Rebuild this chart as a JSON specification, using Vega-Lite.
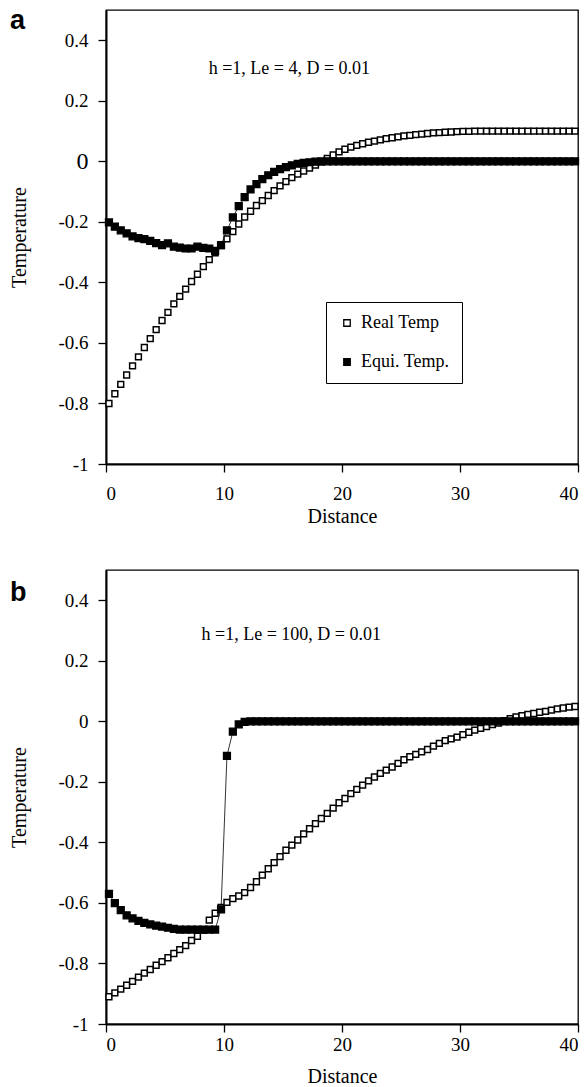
{
"$schema":"https://vega.github.io/schema/vega-lite/v6.json",
"background":"white",
"padding":{"left":9,"top":6,"right":0,"bottom":0},
"spacing":42,
"config":{
 "view":{"stroke":"black","strokeWidth":1.3},
 "axis":{"grid":false,"domainColor":"black","domainWidth":2,"tickColor":"black","tickWidth":1.3,"tickSize":8,
  "labelFont":"Liberation Serif","labelFontSize":19,"labelColor":"black",
  "titleFont":"Liberation Serif","titleFontSize":20,"titleFontWeight":"normal","titleColor":"black"}
},
"resolve":{"scale":{"fill":"independent"},"legend":{"fill":"independent"}},
"datasets":{
"a":[
{"d":0.25,"t":-0.800,"s":"Real Temp"},{"d":0.75,"t":-0.768,"s":"Real Temp"},{"d":1.25,"t":-0.737,"s":"Real Temp"},{"d":1.75,"t":-0.706,"s":"Real Temp"},
{"d":2.25,"t":-0.676,"s":"Real Temp"},{"d":2.75,"t":-0.646,"s":"Real Temp"},{"d":3.25,"t":-0.615,"s":"Real Temp"},{"d":3.75,"t":-0.586,"s":"Real Temp"},
{"d":4.25,"t":-0.556,"s":"Real Temp"},{"d":4.75,"t":-0.526,"s":"Real Temp"},{"d":5.25,"t":-0.499,"s":"Real Temp"},{"d":5.75,"t":-0.471,"s":"Real Temp"},
{"d":6.25,"t":-0.446,"s":"Real Temp"},{"d":6.75,"t":-0.422,"s":"Real Temp"},{"d":7.25,"t":-0.397,"s":"Real Temp"},{"d":7.75,"t":-0.373,"s":"Real Temp"},
{"d":8.25,"t":-0.348,"s":"Real Temp"},{"d":8.75,"t":-0.325,"s":"Real Temp"},{"d":9.25,"t":-0.302,"s":"Real Temp"},{"d":9.75,"t":-0.278,"s":"Real Temp"},
{"d":10.25,"t":-0.256,"s":"Real Temp"},{"d":10.75,"t":-0.232,"s":"Real Temp"},{"d":11.25,"t":-0.207,"s":"Real Temp"},{"d":11.75,"t":-0.184,"s":"Real Temp"},
{"d":12.25,"t":-0.165,"s":"Real Temp"},{"d":12.75,"t":-0.146,"s":"Real Temp"},{"d":13.25,"t":-0.130,"s":"Real Temp"},{"d":13.75,"t":-0.113,"s":"Real Temp"},
{"d":14.25,"t":-0.097,"s":"Real Temp"},{"d":14.75,"t":-0.081,"s":"Real Temp"},{"d":15.25,"t":-0.067,"s":"Real Temp"},{"d":15.75,"t":-0.054,"s":"Real Temp"},
{"d":16.25,"t":-0.042,"s":"Real Temp"},{"d":16.75,"t":-0.032,"s":"Real Temp"},{"d":17.25,"t":-0.022,"s":"Real Temp"},{"d":17.75,"t":-0.012,"s":"Real Temp"},
{"d":18.25,"t":-0.002,"s":"Real Temp"},{"d":18.75,"t":0.010,"s":"Real Temp"},{"d":19.25,"t":0.021,"s":"Real Temp"},{"d":19.75,"t":0.031,"s":"Real Temp"},
{"d":20.25,"t":0.040,"s":"Real Temp"},{"d":20.75,"t":0.047,"s":"Real Temp"},{"d":21.25,"t":0.053,"s":"Real Temp"},{"d":21.75,"t":0.058,"s":"Real Temp"},
{"d":22.25,"t":0.063,"s":"Real Temp"},{"d":22.75,"t":0.067,"s":"Real Temp"},{"d":23.25,"t":0.071,"s":"Real Temp"},{"d":23.75,"t":0.075,"s":"Real Temp"},
{"d":24.25,"t":0.078,"s":"Real Temp"},{"d":24.75,"t":0.081,"s":"Real Temp"},{"d":25.25,"t":0.084,"s":"Real Temp"},{"d":25.75,"t":0.086,"s":"Real Temp"},
{"d":26.25,"t":0.088,"s":"Real Temp"},{"d":26.75,"t":0.090,"s":"Real Temp"},{"d":27.25,"t":0.092,"s":"Real Temp"},{"d":27.75,"t":0.094,"s":"Real Temp"},
{"d":28.25,"t":0.095,"s":"Real Temp"},{"d":28.75,"t":0.096,"s":"Real Temp"},{"d":29.25,"t":0.097,"s":"Real Temp"},{"d":29.75,"t":0.098,"s":"Real Temp"},
{"d":30.25,"t":0.099,"s":"Real Temp"},{"d":30.75,"t":0.099,"s":"Real Temp"},{"d":31.25,"t":0.100,"s":"Real Temp"},{"d":31.75,"t":0.100,"s":"Real Temp"},
{"d":32.25,"t":0.100,"s":"Real Temp"},{"d":32.75,"t":0.100,"s":"Real Temp"},{"d":33.25,"t":0.100,"s":"Real Temp"},{"d":33.75,"t":0.100,"s":"Real Temp"},
{"d":34.25,"t":0.100,"s":"Real Temp"},{"d":34.75,"t":0.100,"s":"Real Temp"},{"d":35.25,"t":0.100,"s":"Real Temp"},{"d":35.75,"t":0.100,"s":"Real Temp"},
{"d":36.25,"t":0.100,"s":"Real Temp"},{"d":36.75,"t":0.100,"s":"Real Temp"},{"d":37.25,"t":0.100,"s":"Real Temp"},{"d":37.75,"t":0.100,"s":"Real Temp"},
{"d":38.25,"t":0.100,"s":"Real Temp"},{"d":38.75,"t":0.100,"s":"Real Temp"},{"d":39.25,"t":0.100,"s":"Real Temp"},{"d":39.75,"t":0.100,"s":"Real Temp"},
{"d":0.25,"t":-0.202,"s":"Equi. Temp."},{"d":0.75,"t":-0.216,"s":"Equi. Temp."},{"d":1.25,"t":-0.228,"s":"Equi. Temp."},{"d":1.75,"t":-0.238,"s":"Equi. Temp."},
{"d":2.25,"t":-0.248,"s":"Equi. Temp."},{"d":2.75,"t":-0.254,"s":"Equi. Temp."},{"d":3.25,"t":-0.257,"s":"Equi. Temp."},{"d":3.75,"t":-0.263,"s":"Equi. Temp."},
{"d":4.25,"t":-0.270,"s":"Equi. Temp."},{"d":4.75,"t":-0.277,"s":"Equi. Temp."},{"d":5.25,"t":-0.271,"s":"Equi. Temp."},{"d":5.75,"t":-0.282,"s":"Equi. Temp."},
{"d":6.25,"t":-0.285,"s":"Equi. Temp."},{"d":6.75,"t":-0.288,"s":"Equi. Temp."},{"d":7.25,"t":-0.288,"s":"Equi. Temp."},{"d":7.75,"t":-0.282,"s":"Equi. Temp."},
{"d":8.25,"t":-0.286,"s":"Equi. Temp."},{"d":8.75,"t":-0.288,"s":"Equi. Temp."},{"d":9.25,"t":-0.296,"s":"Equi. Temp."},{"d":9.75,"t":-0.277,"s":"Equi. Temp."},
{"d":10.25,"t":-0.228,"s":"Equi. Temp."},{"d":10.75,"t":-0.185,"s":"Equi. Temp."},{"d":11.25,"t":-0.148,"s":"Equi. Temp."},{"d":11.75,"t":-0.118,"s":"Equi. Temp."},
{"d":12.25,"t":-0.093,"s":"Equi. Temp."},{"d":12.75,"t":-0.075,"s":"Equi. Temp."},{"d":13.25,"t":-0.059,"s":"Equi. Temp."},{"d":13.75,"t":-0.046,"s":"Equi. Temp."},
{"d":14.25,"t":-0.035,"s":"Equi. Temp."},{"d":14.75,"t":-0.026,"s":"Equi. Temp."},{"d":15.25,"t":-0.019,"s":"Equi. Temp."},{"d":15.75,"t":-0.013,"s":"Equi. Temp."},
{"d":16.25,"t":-0.008,"s":"Equi. Temp."},{"d":16.75,"t":-0.005,"s":"Equi. Temp."},{"d":17.25,"t":-0.003,"s":"Equi. Temp."},{"d":17.75,"t":-0.001,"s":"Equi. Temp."},
{"d":18.25,"t":0,"s":"Equi. Temp."},{"d":18.75,"t":0,"s":"Equi. Temp."},{"d":19.25,"t":0,"s":"Equi. Temp."},{"d":19.75,"t":0,"s":"Equi. Temp."},
{"d":20.25,"t":0,"s":"Equi. Temp."},{"d":20.75,"t":0,"s":"Equi. Temp."},{"d":21.25,"t":0,"s":"Equi. Temp."},{"d":21.75,"t":0,"s":"Equi. Temp."},
{"d":22.25,"t":0,"s":"Equi. Temp."},{"d":22.75,"t":0,"s":"Equi. Temp."},{"d":23.25,"t":0,"s":"Equi. Temp."},{"d":23.75,"t":0,"s":"Equi. Temp."},
{"d":24.25,"t":0,"s":"Equi. Temp."},{"d":24.75,"t":0,"s":"Equi. Temp."},{"d":25.25,"t":0,"s":"Equi. Temp."},{"d":25.75,"t":0,"s":"Equi. Temp."},
{"d":26.25,"t":0,"s":"Equi. Temp."},{"d":26.75,"t":0,"s":"Equi. Temp."},{"d":27.25,"t":0,"s":"Equi. Temp."},{"d":27.75,"t":0,"s":"Equi. Temp."},
{"d":28.25,"t":0,"s":"Equi. Temp."},{"d":28.75,"t":0,"s":"Equi. Temp."},{"d":29.25,"t":0,"s":"Equi. Temp."},{"d":29.75,"t":0,"s":"Equi. Temp."},
{"d":30.25,"t":0,"s":"Equi. Temp."},{"d":30.75,"t":0,"s":"Equi. Temp."},{"d":31.25,"t":0,"s":"Equi. Temp."},{"d":31.75,"t":0,"s":"Equi. Temp."},
{"d":32.25,"t":0,"s":"Equi. Temp."},{"d":32.75,"t":0,"s":"Equi. Temp."},{"d":33.25,"t":0,"s":"Equi. Temp."},{"d":33.75,"t":0,"s":"Equi. Temp."},
{"d":34.25,"t":0,"s":"Equi. Temp."},{"d":34.75,"t":0,"s":"Equi. Temp."},{"d":35.25,"t":0,"s":"Equi. Temp."},{"d":35.75,"t":0,"s":"Equi. Temp."},
{"d":36.25,"t":0,"s":"Equi. Temp."},{"d":36.75,"t":0,"s":"Equi. Temp."},{"d":37.25,"t":0,"s":"Equi. Temp."},{"d":37.75,"t":0,"s":"Equi. Temp."},
{"d":38.25,"t":0,"s":"Equi. Temp."},{"d":38.75,"t":0,"s":"Equi. Temp."},{"d":39.25,"t":0,"s":"Equi. Temp."},{"d":39.75,"t":0,"s":"Equi. Temp."}
],
"b":[
{"d":0.25,"t":-0.910,"s":"Real Temp"},{"d":0.75,"t":-0.897,"s":"Real Temp"},{"d":1.25,"t":-0.885,"s":"Real Temp"},{"d":1.75,"t":-0.872,"s":"Real Temp"},
{"d":2.25,"t":-0.859,"s":"Real Temp"},{"d":2.75,"t":-0.845,"s":"Real Temp"},{"d":3.25,"t":-0.832,"s":"Real Temp"},{"d":3.75,"t":-0.820,"s":"Real Temp"},
{"d":4.25,"t":-0.806,"s":"Real Temp"},{"d":4.75,"t":-0.794,"s":"Real Temp"},{"d":5.25,"t":-0.781,"s":"Real Temp"},{"d":5.75,"t":-0.767,"s":"Real Temp"},
{"d":6.25,"t":-0.754,"s":"Real Temp"},{"d":6.75,"t":-0.741,"s":"Real Temp"},{"d":7.25,"t":-0.724,"s":"Real Temp"},{"d":7.75,"t":-0.710,"s":"Real Temp"},
{"d":8.25,"t":-0.690,"s":"Real Temp"},{"d":8.75,"t":-0.657,"s":"Real Temp"},{"d":9.25,"t":-0.634,"s":"Real Temp"},{"d":9.75,"t":-0.615,"s":"Real Temp"},
{"d":10.25,"t":-0.598,"s":"Real Temp"},{"d":10.75,"t":-0.586,"s":"Real Temp"},{"d":11.25,"t":-0.577,"s":"Real Temp"},{"d":11.75,"t":-0.566,"s":"Real Temp"},
{"d":12.25,"t":-0.549,"s":"Real Temp"},{"d":12.75,"t":-0.530,"s":"Real Temp"},{"d":13.25,"t":-0.508,"s":"Real Temp"},{"d":13.75,"t":-0.487,"s":"Real Temp"},
{"d":14.25,"t":-0.467,"s":"Real Temp"},{"d":14.75,"t":-0.447,"s":"Real Temp"},{"d":15.25,"t":-0.426,"s":"Real Temp"},{"d":15.75,"t":-0.409,"s":"Real Temp"},
{"d":16.25,"t":-0.392,"s":"Real Temp"},{"d":16.75,"t":-0.372,"s":"Real Temp"},{"d":17.25,"t":-0.355,"s":"Real Temp"},{"d":17.75,"t":-0.338,"s":"Real Temp"},
{"d":18.25,"t":-0.321,"s":"Real Temp"},{"d":18.75,"t":-0.304,"s":"Real Temp"},{"d":19.25,"t":-0.287,"s":"Real Temp"},{"d":19.75,"t":-0.269,"s":"Real Temp"},
{"d":20.25,"t":-0.255,"s":"Real Temp"},{"d":20.75,"t":-0.239,"s":"Real Temp"},{"d":21.25,"t":-0.225,"s":"Real Temp"},{"d":21.75,"t":-0.211,"s":"Real Temp"},
{"d":22.25,"t":-0.197,"s":"Real Temp"},{"d":22.75,"t":-0.184,"s":"Real Temp"},{"d":23.25,"t":-0.172,"s":"Real Temp"},{"d":23.75,"t":-0.161,"s":"Real Temp"},
{"d":24.25,"t":-0.151,"s":"Real Temp"},{"d":24.75,"t":-0.139,"s":"Real Temp"},{"d":25.25,"t":-0.127,"s":"Real Temp"},{"d":25.75,"t":-0.117,"s":"Real Temp"},
{"d":26.25,"t":-0.109,"s":"Real Temp"},{"d":26.75,"t":-0.101,"s":"Real Temp"},{"d":27.25,"t":-0.093,"s":"Real Temp"},{"d":27.75,"t":-0.082,"s":"Real Temp"},
{"d":28.25,"t":-0.073,"s":"Real Temp"},{"d":28.75,"t":-0.064,"s":"Real Temp"},{"d":29.25,"t":-0.058,"s":"Real Temp"},{"d":29.75,"t":-0.052,"s":"Real Temp"},
{"d":30.25,"t":-0.044,"s":"Real Temp"},{"d":30.75,"t":-0.036,"s":"Real Temp"},{"d":31.25,"t":-0.029,"s":"Real Temp"},{"d":31.75,"t":-0.023,"s":"Real Temp"},
{"d":32.25,"t":-0.017,"s":"Real Temp"},{"d":32.75,"t":-0.011,"s":"Real Temp"},{"d":33.25,"t":-0.006,"s":"Real Temp"},{"d":33.75,"t":0.002,"s":"Real Temp"},
{"d":34.25,"t":0.009,"s":"Real Temp"},{"d":34.75,"t":0.015,"s":"Real Temp"},{"d":35.25,"t":0.019,"s":"Real Temp"},{"d":35.75,"t":0.023,"s":"Real Temp"},
{"d":36.25,"t":0.026,"s":"Real Temp"},{"d":36.75,"t":0.030,"s":"Real Temp"},{"d":37.25,"t":0.033,"s":"Real Temp"},{"d":37.75,"t":0.037,"s":"Real Temp"},
{"d":38.25,"t":0.041,"s":"Real Temp"},{"d":38.75,"t":0.044,"s":"Real Temp"},{"d":39.25,"t":0.047,"s":"Real Temp"},{"d":39.75,"t":0.049,"s":"Real Temp"},
{"d":0.25,"t":-0.570,"s":"Equi. Temp."},{"d":0.75,"t":-0.601,"s":"Equi. Temp."},{"d":1.25,"t":-0.624,"s":"Equi. Temp."},{"d":1.75,"t":-0.641,"s":"Equi. Temp."},
{"d":2.25,"t":-0.651,"s":"Equi. Temp."},{"d":2.75,"t":-0.659,"s":"Equi. Temp."},{"d":3.25,"t":-0.666,"s":"Equi. Temp."},{"d":3.75,"t":-0.671,"s":"Equi. Temp."},
{"d":4.25,"t":-0.675,"s":"Equi. Temp."},{"d":4.75,"t":-0.678,"s":"Equi. Temp."},{"d":5.25,"t":-0.682,"s":"Equi. Temp."},{"d":5.75,"t":-0.686,"s":"Equi. Temp."},
{"d":6.25,"t":-0.688,"s":"Equi. Temp."},{"d":6.75,"t":-0.688,"s":"Equi. Temp."},{"d":7.25,"t":-0.688,"s":"Equi. Temp."},{"d":7.75,"t":-0.688,"s":"Equi. Temp."},
{"d":8.25,"t":-0.688,"s":"Equi. Temp."},{"d":8.75,"t":-0.688,"s":"Equi. Temp."},{"d":9.25,"t":-0.688,"s":"Equi. Temp."},{"d":9.75,"t":-0.621,"s":"Equi. Temp."},
{"d":10.25,"t":-0.114,"s":"Equi. Temp."},{"d":10.75,"t":-0.034,"s":"Equi. Temp."},{"d":11.25,"t":-0.010,"s":"Equi. Temp."},{"d":11.75,"t":-0.002,"s":"Equi. Temp."},
{"d":12.25,"t":0,"s":"Equi. Temp."},{"d":12.75,"t":0,"s":"Equi. Temp."},{"d":13.25,"t":0,"s":"Equi. Temp."},{"d":13.75,"t":0,"s":"Equi. Temp."},
{"d":14.25,"t":0,"s":"Equi. Temp."},{"d":14.75,"t":0,"s":"Equi. Temp."},{"d":15.25,"t":0,"s":"Equi. Temp."},{"d":15.75,"t":0,"s":"Equi. Temp."},
{"d":16.25,"t":0,"s":"Equi. Temp."},{"d":16.75,"t":0,"s":"Equi. Temp."},{"d":17.25,"t":0,"s":"Equi. Temp."},{"d":17.75,"t":0,"s":"Equi. Temp."},
{"d":18.25,"t":0,"s":"Equi. Temp."},{"d":18.75,"t":0,"s":"Equi. Temp."},{"d":19.25,"t":0,"s":"Equi. Temp."},{"d":19.75,"t":0,"s":"Equi. Temp."},
{"d":20.25,"t":0,"s":"Equi. Temp."},{"d":20.75,"t":0,"s":"Equi. Temp."},{"d":21.25,"t":0,"s":"Equi. Temp."},{"d":21.75,"t":0,"s":"Equi. Temp."},
{"d":22.25,"t":0,"s":"Equi. Temp."},{"d":22.75,"t":0,"s":"Equi. Temp."},{"d":23.25,"t":0,"s":"Equi. Temp."},{"d":23.75,"t":0,"s":"Equi. Temp."},
{"d":24.25,"t":0,"s":"Equi. Temp."},{"d":24.75,"t":0,"s":"Equi. Temp."},{"d":25.25,"t":0,"s":"Equi. Temp."},{"d":25.75,"t":0,"s":"Equi. Temp."},
{"d":26.25,"t":0,"s":"Equi. Temp."},{"d":26.75,"t":0,"s":"Equi. Temp."},{"d":27.25,"t":0,"s":"Equi. Temp."},{"d":27.75,"t":0,"s":"Equi. Temp."},
{"d":28.25,"t":0,"s":"Equi. Temp."},{"d":28.75,"t":0,"s":"Equi. Temp."},{"d":29.25,"t":0,"s":"Equi. Temp."},{"d":29.75,"t":0,"s":"Equi. Temp."},
{"d":30.25,"t":0,"s":"Equi. Temp."},{"d":30.75,"t":0,"s":"Equi. Temp."},{"d":31.25,"t":0,"s":"Equi. Temp."},{"d":31.75,"t":0,"s":"Equi. Temp."},
{"d":32.25,"t":0,"s":"Equi. Temp."},{"d":32.75,"t":0,"s":"Equi. Temp."},{"d":33.25,"t":0,"s":"Equi. Temp."},{"d":33.75,"t":0,"s":"Equi. Temp."},
{"d":34.25,"t":0,"s":"Equi. Temp."},{"d":34.75,"t":0,"s":"Equi. Temp."},{"d":35.25,"t":0,"s":"Equi. Temp."},{"d":35.75,"t":0,"s":"Equi. Temp."},
{"d":36.25,"t":0,"s":"Equi. Temp."},{"d":36.75,"t":0,"s":"Equi. Temp."},{"d":37.25,"t":0,"s":"Equi. Temp."},{"d":37.75,"t":0,"s":"Equi. Temp."},
{"d":38.25,"t":0,"s":"Equi. Temp."},{"d":38.75,"t":0,"s":"Equi. Temp."},{"d":39.25,"t":0,"s":"Equi. Temp."},{"d":39.75,"t":0,"s":"Equi. Temp."}
]
},
"vconcat":[
{
 "width":472,"height":454,
 "title":{"text":"a","anchor":"start","frame":"bounds","font":"Liberation Sans","fontSize":27,"fontWeight":"bold","color":"black","baseline":"alphabetic","offset":-29,"dy":17},
 "layer":[
  {"data":{"name":"a"},"transform":[{"filter":"datum.s == 'Equi. Temp.'"}],
   "mark":{"type":"line","color":"black","strokeWidth":0.8},
   "encoding":{
    "x":{"field":"d","type":"quantitative","scale":{"domain":[0,40],"nice":false},
     "axis":{"title":"Distance","values":[0,10,20,30,40],"labelFont":"Liberation Serif","labelPadding":12,"titlePadding":3}},
    "y":{"field":"t","type":"quantitative","scale":{"domain":[-1,0.5],"nice":false},
     "axis":{"title":"Temperature","values":[-1,-0.8,-0.6,-0.4,-0.2,0,0.2,0.4],"labelExpr":"toString(datum.value)","labelFont":"Liberation Serif","labelPadding":10,"titlePadding":28,
      "labelFontSize":{"condition":{"test":"datum.value === 0","value":24},"value":19}}}
   }},
  {"data":{"name":"a"},"transform":[{"filter":"datum.s == 'Real Temp'"}],
   "mark":{"type":"point","shape":"square","filled":true,"stroke":"black","strokeWidth":1.5,"size":34,"opacity":1,"fillOpacity":1},
   "encoding":{
    "x":{"field":"d","type":"quantitative"},
    "y":{"field":"t","type":"quantitative"},
    "fill":{"field":"s","type":"nominal","scale":{"domain":["Real Temp","Equi. Temp."],"range":["white","black"]},
     "legend":{"title":null,"orient":"none","legendX":220,"legendY":292,"strokeColor":"black","padding":12,"rowPadding":21,
      "symbolType":"square","symbolSize":42,"symbolStrokeColor":"black","symbolStrokeWidth":1.3,"symbolOffset":0,"symbolOpacity":1,
      "labelFont":"Liberation Serif","labelFontSize":18,"labelColor":"black","labelOffset":5,"fillColor":"white",
      "labelExpr":"datum.label + '\u2002\u2002\u2002'"}}
   }},
  {"data":{"name":"a"},"transform":[{"filter":"datum.s == 'Equi. Temp.'"}],
   "mark":{"type":"point","shape":"square","filled":true,"stroke":"black","strokeWidth":1.3,"size":48,"opacity":1,"fillOpacity":1},
   "encoding":{
    "x":{"field":"d","type":"quantitative"},
    "y":{"field":"t","type":"quantitative"},
    "fill":{"field":"s","type":"nominal"}
   }},
  {"data":{"values":[{}]},
   "mark":{"type":"text","align":"left","baseline":"alphabetic","font":"Liberation Serif","fontSize":18,"color":"black"},
   "encoding":{"x":{"datum":8.7},"y":{"datum":0.287},"text":{"value":"h =1, Le = 4, D = 0.01"}}}
 ]
},
{
 "width":472,"height":454,
 "title":{"text":"b","anchor":"start","frame":"bounds","font":"Liberation Sans","fontSize":27,"fontWeight":"bold","color":"black","baseline":"alphabetic","offset":-30,"dy":28},
 "layer":[
  {"data":{"name":"b"},"transform":[{"filter":"datum.s == 'Equi. Temp.'"}],
   "mark":{"type":"line","color":"black","strokeWidth":0.8},
   "encoding":{
    "x":{"field":"d","type":"quantitative","scale":{"domain":[0,40],"nice":false},
     "axis":{"title":"Distance","values":[0,10,20,30,40],"labelFont":"Liberation Serif","labelPadding":3,"titlePadding":12}},
    "y":{"field":"t","type":"quantitative","scale":{"domain":[-1,0.5],"nice":false},
     "axis":{"title":"Temperature","values":[-1,-0.8,-0.6,-0.4,-0.2,0,0.2,0.4],"labelExpr":"toString(datum.value)","labelFont":"Liberation Serif","labelPadding":10,"titlePadding":28}}
   }},
  {"data":{"name":"b"},"transform":[{"filter":"datum.s == 'Real Temp'"}],
   "mark":{"type":"point","shape":"square","filled":true,"fill":"white","stroke":"black","strokeWidth":1.5,"size":34,"opacity":1,"fillOpacity":1},
   "encoding":{
    "x":{"field":"d","type":"quantitative"},
    "y":{"field":"t","type":"quantitative"}
   }},
  {"data":{"name":"b"},"transform":[{"filter":"datum.s == 'Equi. Temp.'"}],
   "mark":{"type":"point","shape":"square","filled":true,"fill":"black","stroke":"black","strokeWidth":1.3,"size":48,"opacity":1,"fillOpacity":1},
   "encoding":{
    "x":{"field":"d","type":"quantitative"},
    "y":{"field":"t","type":"quantitative"}
   }},
  {"data":{"values":[{}]},
   "mark":{"type":"text","align":"left","baseline":"alphabetic","font":"Liberation Serif","fontSize":18,"color":"black"},
   "encoding":{"x":{"datum":8.1},"y":{"datum":0.269},"text":{"value":"h =1, Le = 100, D = 0.01"}}}
 ]
}
]
}
